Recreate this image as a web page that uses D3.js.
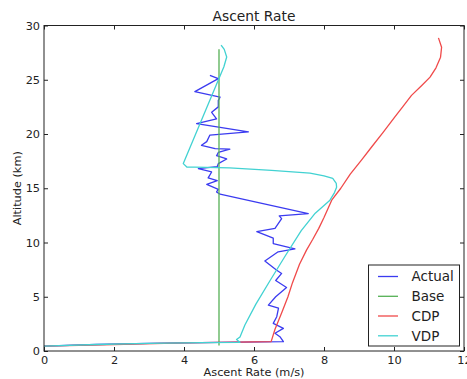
<!DOCTYPE html>
<html>
<head>
<meta charset="utf-8">
<script src="https://cdn.jsdelivr.net/npm/d3@7"></script>
<style>
  html, body { margin: 0; padding: 0; background: #fff; }
  svg { display: block; font-family: "DejaVu Sans", sans-serif; }
</style>
</head>
<body>
<svg id="chart" width="467" height="379"></svg>
<script>
// ---- data ----
const title = "Ascent Rate";
const xLabel = "Ascent Rate (m/s)";
const yLabel = "Altitude (km)";
const xTicks = [0, 2, 4, 6, 8, 10, 12];
const yTicks = [0, 5, 10, 15, 20, 25, 30];
const seriesNames = ["Actual", "Base", "CDP", "VDP"];
const seriesColors = ["#3b3bf0", "#55b055", "#f04a4a", "#42d2d2"];

// Actual: ascent rate (m/s) and altitude (km)
const actualRate = [0, 1.5, 3, 5, 6.84, 6.74, 6.6, 6.84, 6.55, 6.65, 6.7, 6.41, 6.62, 6.93, 6.62, 6.79, 6.65, 6.31, 6.69, 7.17, 6.55, 6.55, 6.08, 6.6, 6.79, 6.72, 7.55, 5.03, 4.93, 4.98, 4.65, 4.95, 4.69, 4.79, 4.41, 4.95, 4.98, 5.22, 4.93, 4.98, 5.31, 4.89, 4.5, 4.65, 4.74, 5.84, 4.36, 4.93, 4.79, 4.98, 4.98, 5.03, 4.31, 4.98, 4.74];
const actualAlt  = [0.45, 0.6, 0.7, 0.8, 0.86, 1.32, 1.63, 2.09, 2.55, 3.16, 3.95, 4.23, 5.0, 5.85, 6.5, 7.15, 7.45, 8.3, 9.14, 9.42, 9.9, 10.4, 11.0, 11.3, 12.2, 12.45, 12.67, 14.45, 14.66, 14.9, 15.35, 15.7, 15.95, 16.5, 16.8, 17.0, 17.27, 17.7, 18.0, 18.3, 18.6, 18.65, 18.96, 19.3, 19.9, 20.2, 20.95, 21.4, 22.0, 22.5, 23.1, 23.4, 23.9, 25.1, 25.4];

// Base
const baseRate = [5, 5];
const baseAlt  = [0.5, 27.8];

// CDP
const cdpRate = [0, 2, 4, 6.49, 6.6, 6.8, 6.97, 7.1, 7.3, 7.5, 7.68, 7.85, 8.0, 8.22, 8.48, 8.75, 9.07, 9.36, 9.7, 10.02, 10.27, 10.5, 10.8, 11.03, 11.2, 11.33, 11.36, 11.27];
const cdpAlt  = [0.45, 0.6, 0.75, 0.86, 2, 3.6, 5, 6.3, 8, 9.3, 10.3, 11.3, 12.3, 13.9, 15.0, 16.3, 17.6, 18.8, 20.2, 21.56, 22.6, 23.56, 24.5, 25.24, 26.1, 27.08, 28, 28.86];

// VDP
const vdpRate = [0, 1.5, 3, 4.5, 5.6, 5.5, 5.6, 5.74, 6.05, 6.46, 6.9, 7.35, 7.75, 8.17, 8.3, 8.36, 8.35, 8.25, 8.0, 7.6, 6.5, 5.3, 4.3, 4.08, 3.98, 5.14, 5.22, 5.15, 5.06];
const vdpAlt  = [0.45, 0.6, 0.7, 0.78, 0.8, 1.05, 1.3, 2.4, 4.3, 6.5, 8.8, 11.1, 12.7, 13.9, 14.6, 15.1, 15.45, 15.9, 16.15, 16.4, 16.65, 16.87, 16.95, 16.96, 17.27, 26.2, 27.1, 27.8, 28.2];

// ---- drawing ----
const svg = d3.select("#chart");
const L = 44, R = 464, T = 25.5, B = 351;
const x = d3.scaleLinear().domain([0, 12]).range([L, R]);
const y = d3.scaleLinear().domain([0, 30]).range([B, T]);

const seriesData = [
  d3.zip(actualRate, actualAlt),
  d3.zip(baseRate, baseAlt),
  d3.zip(cdpRate, cdpAlt),
  d3.zip(vdpRate, vdpAlt)
];

const line = d3.line().x(d => x(d[0])).y(d => y(d[1]));

svg.append("g").selectAll("path")
  .data(seriesData)
  .join("path")
  .attr("d", line)
  .attr("fill", "none")
  .attr("stroke", (d, i) => seriesColors[i])
  .attr("stroke-width", 1.3)
  .attr("stroke-linejoin", "round");

// axes
function styleAxis(g) {
  g.select(".domain").remove();
  g.selectAll(".tick line").attr("stroke", "#222");
  g.selectAll(".tick text").attr("fill", "#222").style("font-size", "11.3px").style("font-family", "'DejaVu Sans', sans-serif");
}
svg.append("g").attr("transform", `translate(0,${B})`)
  .call(d3.axisBottom(x).tickValues(xTicks).tickSizeInner(-4).tickSizeOuter(0).tickPadding(5).tickFormat(d3.format("d")))
  .call(styleAxis);
svg.append("g").attr("transform", `translate(0,${T})`)
  .call(d3.axisTop(x).tickValues(xTicks).tickSizeInner(-4).tickSizeOuter(0).tickFormat(""))
  .call(styleAxis);
svg.append("g").attr("transform", `translate(${L},0)`)
  .call(d3.axisLeft(y).tickValues(yTicks).tickSizeInner(-4).tickSizeOuter(0).tickPadding(4).tickFormat(d3.format("d")))
  .call(styleAxis);
svg.append("g").attr("transform", `translate(${R},0)`)
  .call(d3.axisRight(y).tickValues(yTicks).tickSizeInner(-4).tickSizeOuter(0).tickFormat(""))
  .call(styleAxis);

// frame
svg.append("rect")
  .attr("x", L).attr("y", T).attr("width", R - L).attr("height", B - T)
  .attr("fill", "none").attr("stroke", "#222").attr("stroke-width", 1);

// title and labels
svg.append("text").attr("x", (L + R) / 2).attr("y", 20.5)
  .attr("text-anchor", "middle").attr("fill", "#222").style("font-size", "13.8px").text(title);
svg.append("text").attr("x", (L + R) / 2).attr("y", 376)
  .attr("text-anchor", "middle").attr("fill", "#222").style("font-size", "11.3px").text(xLabel);
svg.append("text").attr("transform", `translate(21,${(T + B) / 2}) rotate(-90)`)
  .attr("text-anchor", "middle").attr("fill", "#222").style("font-size", "11.3px").text(yLabel);

// legend
const lg = svg.append("g");
lg.append("rect").attr("x", 368.5).attr("y", 265).attr("width", 91).attr("height", 81)
  .attr("fill", "#fff").attr("stroke", "#222").attr("stroke-width", 1);
const rowY = [276.5, 296.3, 316, 335.8];
const rows = lg.selectAll("g.row").data(seriesNames).join("g").attr("class", "row")
  .attr("transform", (d, i) => `translate(0,${rowY[i]})`);
rows.append("line").attr("x1", 378).attr("x2", 398).attr("y1", 0).attr("y2", 0)
  .attr("stroke", (d, i) => seriesColors[i]).attr("stroke-width", 1.3);
rows.append("text").attr("x", 411.5).attr("y", 0).attr("dy", "0.36em")
  .attr("fill", "#222").style("font-size", "13.5px").text(d => d);
</script>
</body>
</html>
